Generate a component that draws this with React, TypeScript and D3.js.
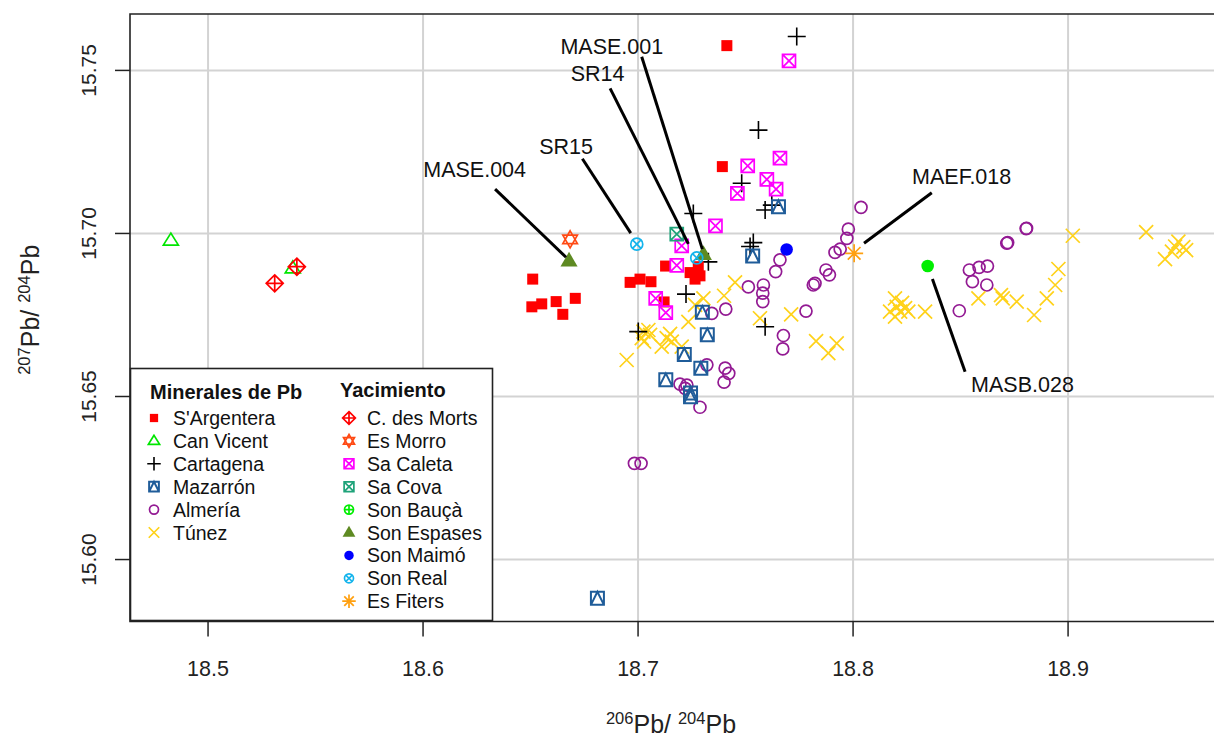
import React from "react";
import * as d3 from "d3";

type P = [number, number];

const X_TICKS = [18.5, 18.6, 18.7, 18.8, 18.9];
const Y_TICKS = [15.6, 15.65, 15.7, 15.75];
const X_DOMAIN: P = [18.4637, 18.9688];
const Y_DOMAIN: P = [15.581, 15.7673];

const sArgentera: P[] = [
  [18.7413, 15.7576], [18.7392, 15.7205], [18.651, 15.686], [18.6506, 15.6775],
  [18.6552, 15.6784], [18.6619, 15.6791], [18.6708, 15.6801], [18.665, 15.6752],
  [18.6963, 15.685], [18.7009, 15.686], [18.706, 15.6852], [18.7128, 15.69],
  [18.7242, 15.688], [18.7288, 15.687], [18.728, 15.6898], [18.7121, 15.679],
  [18.7265, 15.686],
];
const canVicent: P[] = [[18.4827, 15.6978], [18.5394, 15.6893]];
const cartagena: P[] = [
  [18.7738, 15.7604], [18.756, 15.7317], [18.7482, 15.7154], [18.7591, 15.7072],
  [18.7622, 15.7087], [18.7257, 15.7061], [18.7536, 15.6972], [18.7521, 15.696],
  [18.7327, 15.6913], [18.7223, 15.6814], [18.7591, 15.6714], [18.7001, 15.6699],
];
const mazarron: P[] = [
  [18.7653, 15.7082], [18.7533, 15.6931], [18.7299, 15.6758], [18.7322, 15.6689],
  [18.7215, 15.6629], [18.7292, 15.6587], [18.7129, 15.6551], [18.7244, 15.6499],
  [18.7244, 15.6511], [18.6811, 15.5881],
];
const almeria: P[] = [
  [18.766, 15.6919], [18.764, 15.6883], [18.7583, 15.6842], [18.758, 15.6817],
  [18.758, 15.6791], [18.7513, 15.6836], [18.7408, 15.6768], [18.7343, 15.6755],
  [18.7781, 15.6762], [18.7823, 15.6847], [18.7815, 15.6842], [18.7676, 15.6687],
  [18.7673, 15.6646], [18.732, 15.6597], [18.7405, 15.6587], [18.7422, 15.6571],
  [18.74, 15.6544], [18.7195, 15.6538], [18.7227, 15.6535], [18.7219, 15.6525],
  [18.7288, 15.6467], [18.6983, 15.6295], [18.7014, 15.6295], [18.8037, 15.708],
  [18.7978, 15.7013], [18.7971, 15.6985], [18.794, 15.6952], [18.7916, 15.6942],
  [18.7874, 15.6888], [18.789, 15.6873], [18.8494, 15.6763], [18.8541, 15.6888],
  [18.8586, 15.6896], [18.8625, 15.69], [18.8555, 15.6852], [18.8622, 15.6842],
  [18.8715, 15.697], [18.8719, 15.6972], [18.8805, 15.7015], [18.8807, 15.7016],
];
const tunez: P[] = [
  [18.7451, 15.685], [18.74, 15.6809], [18.7304, 15.6801], [18.7265, 15.6781],
  [18.7234, 15.6729], [18.7567, 15.674], [18.7712, 15.6752], [18.7025, 15.6699],
  [18.7048, 15.6704], [18.7017, 15.6679], [18.7028, 15.6668], [18.7056, 15.6689],
  [18.7149, 15.6692], [18.7133, 15.6679], [18.7157, 15.6668], [18.7203, 15.6653],
  [18.711, 15.6653], [18.6947, 15.6612], [18.7828, 15.667], [18.7885, 15.6633],
  [18.7924, 15.6663], [18.8195, 15.6801], [18.8203, 15.6775], [18.8219, 15.676],
  [18.8195, 15.6745], [18.8242, 15.6771], [18.8257, 15.676], [18.8172, 15.676],
  [18.8228, 15.6787], [18.8335, 15.676], [18.8583, 15.6801], [18.8688, 15.6811],
  [18.8696, 15.6801], [18.8761, 15.6791], [18.8842, 15.675], [18.8901, 15.6801],
  [18.894, 15.6842], [18.8955, 15.6891], [18.9022, 15.6993], [18.9363, 15.7004],
  [18.9451, 15.6921], [18.9498, 15.696], [18.9513, 15.6975], [18.9536, 15.6958],
  [18.9483, 15.6944], [18.9549, 15.6949],
];
const cDesMorts: P[] = [[18.531, 15.6847], [18.5413, 15.6898]];
const esMorro: P[] = [[18.6684, 15.6982]];
const saCaleta: P[] = [
  [18.7702, 15.7529], [18.751, 15.7207], [18.766, 15.7231], [18.7599, 15.7166],
  [18.7642, 15.7136], [18.7462, 15.7123], [18.736, 15.7023], [18.7203, 15.6962],
  [18.718, 15.6902], [18.7082, 15.6801], [18.7129, 15.6757],
];
const saCova: P[] = [[18.718, 15.6998]];
const sonBauca: P[] = [[18.8347, 15.69]];
const sonEspases: P[] = [[18.6679, 15.6916], [18.7304, 15.6936]];
const sonMaimo: P[] = [[18.7691, 15.6951]];
const sonReal: P[] = [[18.6994, 15.6967], [18.7273, 15.6925]];
const esFiters: P[] = [[18.8005, 15.6939]];

const labelNames = ["MASE.004", "SR15", "SR14", "MASE.001", "MAEF.018", "MASB.028"];
const labelPos: P[] = [
  [18.624, 15.7198], [18.6665, 15.7266], [18.6812, 15.7492],
  [18.6878, 15.7575], [18.8505, 15.7174], [18.8788, 15.6538],
];
const leaderFrom: P[] = [
  [18.6335, 15.7136], [18.6741, 15.7229], [18.687, 15.7445],
  [18.7017, 15.7542], [18.8366, 15.7125], [18.8369, 15.686],
];
const leaderTo: P[] = [
  [18.6665, 15.6927], [18.6966, 15.7001], [18.7234, 15.6968],
  [18.7299, 15.6952], [18.8051, 15.697], [18.8521, 15.6576],
];

type Shape =
  | "sqfill" | "tri" | "plus" | "sqtri" | "circle" | "x" | "diamplus"
  | "star6" | "sqx" | "circfill" | "trifill" | "circx" | "circplus" | "asterisk";

interface Series { name: string; data: P[]; shape: Shape; color: string; legendShape?: Shape }

const minerals: Series[] = [
  { name: "S'Argentera", data: sArgentera, shape: "sqfill", color: "#FF0000" },
  { name: "Can Vicent", data: canVicent, shape: "tri", color: "#00E600" },
  { name: "Cartagena", data: cartagena, shape: "plus", color: "#000000" },
  { name: "Mazarrón", data: mazarron, shape: "sqtri", color: "#1F5C99" },
  { name: "Almería", data: almeria, shape: "circle", color: "#931A93" },
  { name: "Túnez", data: tunez, shape: "x", color: "#FFD21A" },
];
const sites: Series[] = [
  { name: "C. des Morts", data: cDesMorts, shape: "diamplus", color: "#FF0000" },
  { name: "Es Morro", data: esMorro, shape: "star6", color: "#FF4A14" },
  { name: "Sa Caleta", data: saCaleta, shape: "sqx", color: "#FF00FF" },
  { name: "Sa Cova", data: saCova, shape: "sqx", color: "#1FA37A" },
  { name: "Son Bauçà", data: sonBauca, shape: "circfill", color: "#00EE00", legendShape: "circplus" },
  { name: "Son Espases", data: sonEspases, shape: "trifill", color: "#5E8A22" },
  { name: "Son Maimó", data: sonMaimo, shape: "circfill", color: "#0000FF" },
  { name: "Son Real", data: sonReal, shape: "circx", color: "#14B4EC" },
  { name: "Es Fiters", data: esFiters, shape: "asterisk", color: "#FFA010" },
];
const drawOrder = [4, 5, 2, 3, 1, 0];

function Marker({ shape, cx, cy, color, k = 1 }: { shape: Shape; cx: number; cy: number; color: string; k?: number }) {
  const sw = 1.7;
  const st = { fill: "none", stroke: color, strokeWidth: sw };
  switch (shape) {
    case "sqfill": {
      const s = 11 * k;
      return <rect x={cx - s / 2} y={cy - s / 2} width={s} height={s} fill={color} />;
    }
    case "tri": {
      const a = 7.5 * k;
      return <polygon points={`${cx},${cy - a} ${cx - a},${cy + a * 0.6} ${cx + a},${cy + a * 0.6}`} {...st} />;
    }
    case "plus": {
      const a = 9 * k;
      return <path d={`M${cx - a},${cy}H${cx + a}M${cx},${cy - a}V${cy + a}`} {...st} strokeWidth={1.6} />;
    }
    case "sqtri": {
      const h = 6.5 * k;
      return (
        <path d={`M${cx - h},${cy - h}H${cx + h}V${cy + h}H${cx - h}Z M${cx - h},${cy + h}L${cx},${cy - h}L${cx + h},${cy + h}`} {...st} strokeWidth={2} />
      );
    }
    case "circle":
      return <circle cx={cx} cy={cy} r={6 * k} {...st} />;
    case "x": {
      const a = 7 * k;
      return <path d={`M${cx - a},${cy - a}L${cx + a},${cy + a}M${cx - a},${cy + a}L${cx + a},${cy - a}`} {...st} />;
    }
    case "diamplus": {
      const a = 8.5 * k;
      return (
        <path d={`M${cx},${cy - a}L${cx + a},${cy}L${cx},${cy + a}L${cx - a},${cy}Z M${cx - a},${cy}H${cx + a}M${cx},${cy - a}V${cy + a}`} {...st} />
      );
    }
    case "star6": {
      const a = 8.5 * k;
      const w = 7.3 * k;
      return (
        <path d={`M${cx},${cy - a}L${cx + w},${cy + a / 2}L${cx - w},${cy + a / 2}Z M${cx},${cy + a}L${cx + w},${cy - a / 2}L${cx - w},${cy - a / 2}Z`} {...st} />
      );
    }
    case "sqx": {
      const h = 6.5 * k;
      return (
        <path d={`M${cx - h},${cy - h}H${cx + h}V${cy + h}H${cx - h}Z M${cx - h},${cy - h}L${cx + h},${cy + h}M${cx - h},${cy + h}L${cx + h},${cy - h}`} {...st} />
      );
    }
    case "circfill":
      return <circle cx={cx} cy={cy} r={6.3 * k} fill={color} />;
    case "trifill": {
      const a = 9 * k;
      return <polygon points={`${cx},${cy - a} ${cx - a * 0.95},${cy + a * 0.62} ${cx + a * 0.95},${cy + a * 0.62}`} fill={color} />;
    }
    case "circx": {
      const r = 6 * k;
      const d = r * 0.707;
      return (
        <g {...st}>
          <circle cx={cx} cy={cy} r={r} />
          <path d={`M${cx - d},${cy - d}L${cx + d},${cy + d}M${cx - d},${cy + d}L${cx + d},${cy - d}`} />
        </g>
      );
    }
    case "circplus": {
      const r = 6 * k;
      return (
        <g {...st}>
          <circle cx={cx} cy={cy} r={r} />
          <path d={`M${cx - r},${cy}H${cx + r}M${cx},${cy - r}V${cy + r}`} />
        </g>
      );
    }
    case "asterisk": {
      const a = 9 * k;
      const d = a * 0.707;
      return (
        <path d={`M${cx - a},${cy}H${cx + a}M${cx},${cy - a}V${cy + a}M${cx - d},${cy - d}L${cx + d},${cy + d}M${cx - d},${cy + d}L${cx + d},${cy - d}`} {...st} />
      );
    }
  }
  return null;
}

export default function App() {
  const W = 1214, H = 740;
  const left = 130, top = 14, right = 1216, bottom = 621.5;
  const x = d3.scaleLinear().domain(X_DOMAIN).range([left, right]);
  const y = d3.scaleLinear().domain(Y_DOMAIN).range([bottom, top]);
  const font = "'Liberation Sans', Arial, Helvetica, sans-serif";
  const fmtY = d3.format(".2f");
  const fmtX = d3.format(".1f");

  const legLeft = 130.5, legTop = 368.5, legRight = 492.5, legBottom = 620.5;
  const rowY0 = 418, rowStep = 22.9;

  return (
    <svg width={W} height={H} style={{ position: "absolute", left: 0, top: 0, background: "#fff" }} fontFamily={font}>
      <rect x={0} y={0} width={W} height={H} fill="#fff" />
      {X_TICKS.map((t) => (
        <line key={"gx" + t} x1={x(t)} x2={x(t)} y1={top} y2={bottom} stroke="#D3D3D3" strokeWidth={2} />
      ))}
      {Y_TICKS.map((t) => (
        <line key={"gy" + t} x1={left} x2={right} y1={y(t)} y2={y(t)} stroke="#D3D3D3" strokeWidth={2} />
      ))}
      {drawOrder.map((i) => {
        const s = minerals[i];
        return (
          <g key={s.name}>
            {s.data.map((d, j) => (
              <Marker key={j} shape={s.shape} cx={x(d[0])} cy={y(d[1])} color={s.color} />
            ))}
          </g>
        );
      })}
      {sites.map((s) => (
        <g key={s.name}>
          {s.data.map((d, j) => (
            <Marker key={j} shape={s.shape} cx={x(d[0])} cy={y(d[1])} color={s.color} />
          ))}
        </g>
      ))}
      {labelNames.map((n, i) => (
        <g key={n}>
          <line x1={x(leaderFrom[i][0])} y1={y(leaderFrom[i][1])} x2={x(leaderTo[i][0])} y2={y(leaderTo[i][1])} stroke="#000" strokeWidth={3} />
          <text x={x(labelPos[i][0])} y={y(labelPos[i][1])} dy="0.36em" textAnchor="middle" fontSize={21.5} fill="#111">
            {n}
          </text>
        </g>
      ))}
      <path d={`M${right},${top}H${left}V${bottom}H${right}`} fill="none" stroke="#222" strokeWidth={1.6} />
      {X_TICKS.map((t) => (
        <g key={"tx" + t}>
          <line x1={x(t)} x2={x(t)} y1={bottom} y2={bottom + 15} stroke="#222" strokeWidth={1.5} />
          <text x={x(t)} y={676} textAnchor="middle" fontSize={21.5} fill="#222">
            {fmtX(t)}
          </text>
        </g>
      ))}
      {Y_TICKS.map((t) => (
        <g key={"ty" + t}>
          <line x1={left - 15} x2={left} y1={y(t)} y2={y(t)} stroke="#222" strokeWidth={1.5} />
          <text transform={`translate(96,${y(t)}) rotate(-90)`} textAnchor="middle" fontSize={21} fill="#222">
            {fmtY(t)}
          </text>
        </g>
      ))}
      <text x={671} y={733} textAnchor="middle" fill="#222" style={{ whiteSpace: "pre" }}>
        <tspan fontSize={16.5} dy={-9}>206</tspan>
        <tspan fontSize={25} dy={9}>Pb/ </tspan>
        <tspan fontSize={16.5} dy={-9}>204</tspan>
        <tspan fontSize={25} dy={9}>Pb</tspan>
      </text>
      <text transform={`translate(39,${(top + bottom) / 2 - 8}) rotate(-90)`} textAnchor="middle" fill="#222" style={{ whiteSpace: "pre" }}>
        <tspan fontSize={16.5} dy={-9}>207</tspan>
        <tspan fontSize={25} dy={9}>Pb/ </tspan>
        <tspan fontSize={16.5} dy={-9}>204</tspan>
        <tspan fontSize={25} dy={9}>Pb</tspan>
      </text>
      <rect x={legLeft} y={legTop} width={legRight - legLeft} height={legBottom - legTop} fill="#fff" stroke="#222" strokeWidth={1.6} />
      <text x={150} y={399} fontSize={20} fontWeight="bold" fill="#111">Minerales de Pb</text>
      <text x={340} y={397} fontSize={20} fontWeight="bold" fill="#111">Yacimiento</text>
      {minerals.map((s, i) => (
        <g key={"lm" + s.name}>
          <Marker shape={s.legendShape || s.shape} cx={154} cy={rowY0 + i * rowStep} color={s.color} k={0.75} />
          <text x={173} y={rowY0 + i * rowStep + 7} fontSize={19.5} fill="#111">{s.name}</text>
        </g>
      ))}
      {sites.map((s, i) => (
        <g key={"ls" + s.name}>
          <Marker shape={s.legendShape || s.shape} cx={349} cy={rowY0 + i * rowStep} color={s.color} k={0.75} />
          <text x={367} y={rowY0 + i * rowStep + 7} fontSize={19.5} fill="#111">{s.name}</text>
        </g>
      ))}
    </svg>
  );
}
